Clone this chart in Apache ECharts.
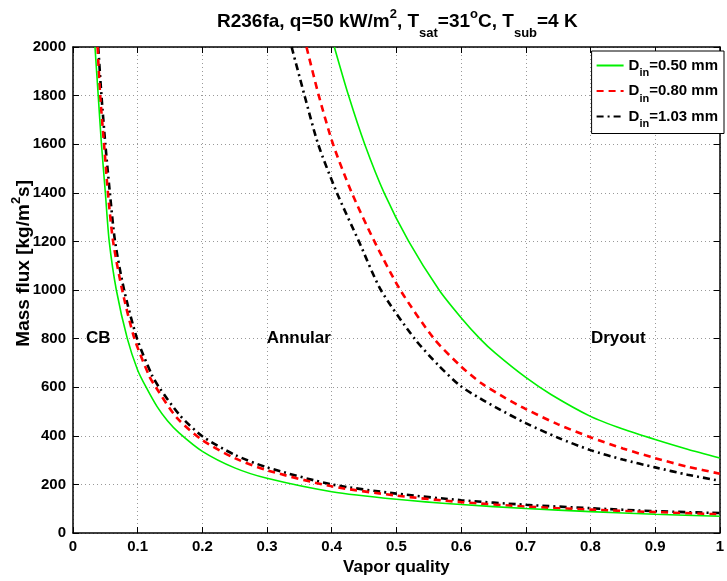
<!DOCTYPE html>
<html>
<head>
<meta charset="utf-8">
<script src="https://cdn.jsdelivr.net/npm/echarts@6/dist/echarts.min.js"></script>
<style>
html,body{margin:0;padding:0;background:#fff;}
#chart{width:727px;height:581px;}
</style>
</head>
<body>
<div id="chart"></div>
<script>
// ---- data (x = vapor quality, y = mass flux kg/m2s) ----
const seriesNames = ['D_in=0.50 mm', 'D_in=0.80 mm', 'D_in=1.03 mm'];
const legendLabels = ['0.50 mm', '0.80 mm', '1.03 mm'];

// CB -> annular transition curves
const lowerD050 = [[0.034,2000],[0.039,1800],[0.044,1600],[0.050,1400],[0.056,1200],[0.067,1000],[0.084,800],[0.100,670],[0.113,600],[0.130,520],[0.146,462],[0.164,412],[0.2,336],[0.25,268],[0.3,225],[0.4,170],[0.5,139],[0.6,117],[0.7,101],[0.8,88],[0.9,77],[1.0,69]];
const lowerD080 = [[0.038,2000],[0.042,1800],[0.048,1600],[0.054,1400],[0.062,1200],[0.076,1000],[0.095,800],[0.118,645],[0.128,600],[0.16,476],[0.2,382],[0.25,308],[0.3,258],[0.4,192],[0.5,154],[0.6,127],[0.7,109],[0.8,96],[0.9,86],[1.0,77]];
const lowerD103 = [[0.039,2000],[0.044,1800],[0.050,1600],[0.057,1400],[0.065,1200],[0.079,1000],[0.099,800],[0.122,650],[0.133,600],[0.165,485],[0.2,398],[0.25,322],[0.3,270],[0.4,200],[0.5,162],[0.6,135],[0.7,116],[0.8,102],[0.9,90],[1.0,82]];

// annular -> dryout transition curves
const upperD050 = [[0.404,2000],[0.426,1800],[0.451,1600],[0.481,1400],[0.519,1200],[0.566,1000],[0.600,886],[0.629,800],[0.653,740],[0.70,640],[0.739,570],[0.8,480],[0.85,428],[0.9,385],[0.95,345],[1.0,309]];
const upperD080 = [[0.361,2000],[0.380,1800],[0.402,1600],[0.431,1400],[0.466,1200],[0.506,1000],[0.558,800],[0.60,685],[0.632,615],[0.668,556],[0.70,510],[0.75,447],[0.8,394],[0.85,348],[0.9,308],[0.95,273],[1.0,244]];
const upperD103 = [[0.338,2000],[0.358,1800],[0.379,1600],[0.408,1400],[0.442,1200],[0.476,1000],[0.528,800],[0.565,690],[0.599,605],[0.630,553],[0.653,518],[0.70,452],[0.75,392],[0.8,341],[0.85,302],[0.9,270],[0.95,240],[1.0,215]];

// region annotations
const regionLabels = [
  {name:'CB', x:0.039, y:800},
  {name:'Annular', x:0.349, y:800},
  {name:'Dryout', x:0.843, y:800}
];

const xTicks = {min:0, max:1, interval:0.1};
const yTicks = {min:0, max:2000, interval:200};

const colors = ['#00f000', '#ff0000', '#000000'];
const FONT = '"Liberation Sans", Arial, Helvetica, sans-serif';

const chart = echarts.init(document.getElementById('chart'), null, {renderer:'canvas'});

const lineStyles = [
  {color:colors[0], width:1.6, type:'solid'},
  {color:colors[1], width:2.6, type:[7,5]},
  {color:colors[2], width:2.6, type:[7,4,2,4]}
];

function curve(name, data, idx) {
  return {
    name: name, type:'line', data: data, smooth: 0.25,
    symbol:'none', showSymbol:false, xAxisIndex:0, yAxisIndex:0,
    lineStyle: lineStyles[idx], itemStyle:{color:colors[idx]},
    z: 5 - idx, animation:false
  };
}

const series = [
  curve(seriesNames[0], lowerD050, 0),
  curve(seriesNames[1], lowerD080, 1),
  curve(seriesNames[2], lowerD103, 2),
  curve(seriesNames[0], upperD050, 0),
  curve(seriesNames[1], upperD080, 1),
  curve(seriesNames[2], upperD103, 2),
  {
    type:'scatter', name:'regions', symbolSize:0, itemStyle:{color:'#000', opacity:1},
    data: regionLabels.map(r => ({name:r.name, value:[r.x, r.y]})),
    label:{show:true, position:'inside', formatter:p => p.name, color:'#000', opacity:1,
      fontFamily:FONT, fontWeight:'bold', fontSize:17},
    emphasis:{disabled:true},
    silent:true, animation:false, z:10
  }
];

const tickFont = {fontFamily:FONT, fontWeight:'bold', fontSize:15, color:'#000'};

const option = {
  backgroundColor:'#fff',
  animation:false,
  textStyle:{fontFamily:FONT},
  title:{
    text:'{n|R236fa, q=50 kW/m}{sup|2}{n|, T}{sub|sat}{n|=31}{sup|o}{n|C, T}{sub|sub}{n|=4 K}',
    left:212, top:-1,
    textStyle:{
      rich:{
        n:{fontFamily:FONT, fontWeight:'bold', fontSize:19, color:'#000', lineHeight:36, verticalAlign:'middle'},
        sup:{fontFamily:FONT, fontWeight:'bold', fontSize:13, color:'#000', lineHeight:36, verticalAlign:'top', padding:[4,0,0,0]},
        sub:{fontFamily:FONT, fontWeight:'bold', fontSize:13, color:'#000', lineHeight:36, verticalAlign:'bottom'}
      }
    }
  },
  legend:{
    data: seriesNames,
    orient:'vertical', right:3, top:51,
    backgroundColor:'#fff', borderColor:'#000', borderWidth:1, borderRadius:0,
    padding:[7,6,4,4], itemGap:5, itemWidth:27, itemHeight:14,
    itemStyle:{color:'rgba(0,0,0,0)', borderWidth:0, opacity:0},
    formatter: name => '{d|D}{s|in}{d|=' + legendLabels[seriesNames.indexOf(name)] + '}',
    textStyle:{
      rich:{
        d:{fontFamily:FONT, fontWeight:'bold', fontSize:15, color:'#000', lineHeight:26, verticalAlign:'middle'},
        s:{fontFamily:FONT, fontWeight:'bold', fontSize:11, color:'#000', lineHeight:26, verticalAlign:'bottom'}
      }
    }
  },
  grid:{left:73, right:1, top:47, bottom:40, containLabel:false},
  xAxis:[
    {
      type:'value', min:xTicks.min, max:xTicks.max, interval:xTicks.interval, position:'bottom',
      name:'Vapor quality', nameLocation:'middle', nameGap:26,
      nameTextStyle:{fontFamily:FONT, fontWeight:'bold', fontSize:17, color:'#000'},
      axisLine:{show:true, onZero:false, lineStyle:{color:'#000', width:1.5}},
      axisTick:{show:true, inside:true, length:6, lineStyle:{color:'#000', width:1}},
      axisLabel:Object.assign({margin:6, formatter: v => {
        const r = Math.round(v*10)/10;
        return (r === 0 || r === 1) ? String(r) : r.toFixed(1);
      }}, tickFont),
      splitLine:{show:true, lineStyle:{color:'#999', type:[1,3], width:1}}
    },
    {
      type:'value', min:xTicks.min, max:xTicks.max, interval:xTicks.interval, position:'top',
      axisLine:{show:true, onZero:false, lineStyle:{color:'#000', width:1.5}},
      axisTick:{show:true, inside:true, length:6, lineStyle:{color:'#000', width:1}},
      axisLabel:{show:false}, splitLine:{show:false}
    }
  ],
  yAxis:[
    {
      type:'value', min:yTicks.min, max:yTicks.max, interval:yTicks.interval, position:'left',
      axisLine:{show:true, onZero:false, lineStyle:{color:'#000', width:1.5}},
      axisTick:{show:true, inside:true, length:6, lineStyle:{color:'#000', width:1}},
      axisLabel:Object.assign({margin:7, formatter: v => String(Math.round(v))}, tickFont),
      splitLine:{show:true, lineStyle:{color:'#999', type:[1,3], width:1}}
    },
    {
      type:'value', min:yTicks.min, max:yTicks.max, interval:yTicks.interval, position:'right',
      axisLine:{show:true, onZero:false, lineStyle:{color:'#000', width:1.5}},
      axisTick:{show:true, inside:true, length:6, lineStyle:{color:'#000', width:1}},
      axisLabel:{show:false}, splitLine:{show:false}
    }
  ],
  graphic:[
    {
      type:'text', left:10, top:180, rotation:Math.PI/2, silent:true,
      style:{
        text:'{n|Mass flux [kg/m}{sup|2}{n|s]}',
        rich:{
          n:{fontFamily:FONT, fontWeight:'bold', fontSize:19, fill:'#000', lineHeight:28, verticalAlign:'middle'},
          sup:{fontFamily:FONT, fontWeight:'bold', fontSize:13, fill:'#000', lineHeight:28, verticalAlign:'top'}
        }
      }
    }
  ],
  series: series
};
chart.setOption(option);
</script>
</body>
</html>
